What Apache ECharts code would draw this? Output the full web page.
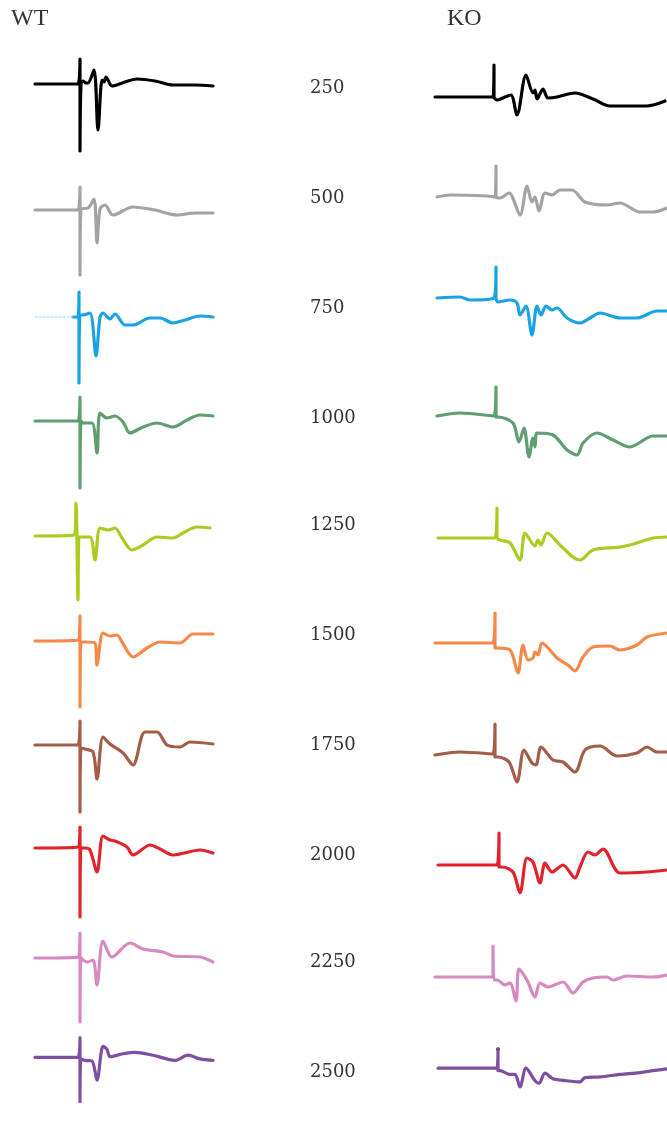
<!DOCTYPE html>
<html>
<head>
<meta charset="utf-8">
<script src="https://cdn.jsdelivr.net/npm/echarts@6/dist/echarts.min.js"></script>
<style>
  html, body { margin: 0; padding: 0; background: #fff; }
  #chart { width: 667px; height: 1131px; }
</style>
</head>
<body>
<div id="chart"></div>
<script>
// stimulus intensities, one row each
const doses = ['250', '500', '750', '1000', '1250', '1500', '1750', '2000', '2250', '2500']
const traceColors = ['#000000', '#a3a3a3', '#1aa3e3', '#5e9e70', '#aacb1f', '#f5894a', '#a45e47', '#e3232b', '#d78abf', '#7f4f9f']

// WT traces: [time, amplitude]
const wt250 = [[0,0],[43,0],[45,25],[45,-67],[46,0],[48,3],[51,1],[53,1],[59,14],[63,-46],[67,4],[69,2],[71,7],[77,-2],[90,2],[102,5],[120,3],[138,-1],[160,-1],[178,-2]]
const wt500 = [[0,0],[43,0],[45,23],[45,-65],[46,1],[53,2],[59,11],[62,-33],[65,1],[70,5],[78,-5],[98,3],[120,0],[142,-5],[160,-3],[178,-3]]
const wt750dim = [[0,0],[38,0]]
const wt750 = [[38,0],[43,0],[44,25],[44,-66],[45,2],[48,2],[55,4],[61,-39],[65,0],[68,4],[75,-2],[80,3],[90,-8],[98,-8],[115,-1],[125,-1],[138,-6],[150,-3],[165,1],[178,0]]
const wt1000 = [[0,0],[43,0],[45,24],[45,-67],[46,0],[48,-2],[57,-2],[62,-32],[65,8],[72,3],[80,5],[88,-1],[95,-12],[108,-6],[122,-2],[138,-6],[152,1],[165,6],[178,5]]
const wt1250 = [[0,0],[39,1],[41,33],[43,-64],[44,-1],[55,-1],[60,-24],[65,8],[73,6],[80,8],[87,-2],[97,-14],[108,-9],[122,-1],[138,-2],[148,3],[162,9],[175,8]]
const wt1500 = [[0,0],[43,1],[45,25],[45,-66],[46,-1],[50,-1],[60,-2],[62,-24],[68,8],[75,5],[82,6],[87,-1],[98,-16],[112,-7],[125,-1],[145,-2],[158,7],[178,7]]
const wt1750 = [[0,0],[43,0],[45,24],[45,-67],[46,-3],[50,-4],[58,-7],[62,-34],[68,8],[75,1],[88,-8],[98,-20],[110,13],[122,13],[132,0],[145,-2],[155,3],[178,1]]
const wt2000 = [[0,0],[43,1],[45,21],[45,-69],[46,0],[50,0],[55,-2],[62,-24],[68,12],[75,8],[80,7],[92,1],[98,-7],[115,3],[125,-1],[138,-7],[165,-2],[178,-5]]
const wt2250 = [[0,0],[43,1],[45,25],[45,-64],[46,0],[52,-4],[58,-2],[62,-27],[68,17],[77,1],[95,15],[108,9],[128,6],[138,2],[165,1],[178,-4]]
const wt2500 = [[0,0],[43,0],[45,27],[45,-60],[46,-2],[50,-4],[57,-5],[62,-31],[68,15],[72,11],[75,1],[88,5],[100,7],[118,3],[140,-4],[153,3],[165,-2],[178,-4]]

// KO traces
const ko250 = [[0,0],[58,0],[59,32],[59,0],[62,-3],[70,0],[76,2],[82,-18],[91,22],[98,4],[100,7],[102,-2],[108,8],[113,-1],[122,0],[140,4],[158,-2],[175,-9],[212,-9],[230,-4]]
const ko500 = [[2,0],[15,2],[52,1],[60,0],[61,31],[61,0],[65,-1],[74,4],[85,-18],[92,11],[97,-5],[100,0],[104,-14],[110,4],[117,2],[125,7],[137,7],[150,-5],[172,-8],[185,-6],[205,-15],[218,-15],[232,-11]]
const ko750 = [[2,0],[25,1],[35,-2],[59,0],[61,31],[61,0],[63,-4],[75,-2],[82,-5],[85,-17],[91,-8],[97,-37],[102,-8],[106,-17],[111,-8],[117,-12],[122,-10],[132,-20],[145,-25],[155,-20],[165,-15],[185,-20],[202,-20],[222,-13],[232,-13]]
const ko1000 = [[2,0],[25,3],[59,0],[61,29],[61,-1],[63,-1],[78,-7],[84,-26],[89,-12],[94,-41],[98,-22],[100,-31],[102,-17],[118,-19],[132,-34],[142,-39],[148,-27],[162,-17],[178,-24],[195,-31],[218,-20],[232,-20]]
const ko1250 = [[3,0],[60,0],[62,30],[62,0],[65,-2],[75,-5],[85,-22],[90,5],[100,-8],[103,-2],[106,-7],[112,5],[125,-7],[138,-19],[145,-22],[158,-12],[185,-9],[202,-5],[218,0],[232,1]]
const ko1500 = [[0,0],[58,0],[60,30],[60,-5],[62,-5],[75,-7],[83,-30],[88,-2],[93,-17],[98,-15],[100,-9],[103,-12],[107,0],[122,-15],[133,-22],[140,-28],[148,-14],[158,-4],[175,-3],[185,-7],[202,-2],[212,6],[232,10]]
const ko1750 = [[0,-1],[25,2],[58,0],[60,30],[60,-3],[63,-3],[74,-8],[82,-28],[89,4],[97,-9],[101,-11],[106,7],[118,-6],[128,-8],[140,-18],[150,4],[165,8],[182,-2],[202,1],[212,7],[222,2],[232,2]]
const ko2000 = [[3,0],[62,0],[64,32],[64,-2],[67,-2],[78,-7],[85,-28],[92,7],[98,3],[105,-18],[110,2],[117,-7],[128,0],[140,-13],[145,-2],[153,13],[160,10],[168,16],[185,-8],[212,-7],[232,-5]]
const ko2250 = [[0,0],[58,0],[58,31],[59,-3],[62,-3],[70,-8],[75,-6],[81,-24],[84,8],[92,-3],[100,-20],[105,-6],[113,-10],[128,-5],[138,-16],[148,-5],[158,-1],[172,0],[178,-3],[192,1],[218,0],[232,2]]
const ko2500 = [[3,0],[62,0],[63,30],[63,-4],[65,-4],[75,-10],[80,-10],[85,-30],[91,0],[100,-20],[104,-24],[110,-8],[118,-17],[132,-20],[145,-22],[150,-15],[165,-14],[185,-10],[205,-7],[218,-4],[232,-1]]
const ko2500Dot = [[63,30]]

const wtTraces = [wt250, wt500, wt750, wt1000, wt1250, wt1500, wt1750, wt2000, wt2250, wt2500]
const koTraces = [ko250, ko500, ko750, ko1000, ko1250, ko1500, ko1750, ko2000, ko2250, ko2500]

// layout: baseline pixel of each row
const wtBase = [84, 210, 317, 421, 536, 641, 745, 848, 958, 1068]
const koBase = [97, 197, 298, 416, 538, 643, 754, 865, 977, 1083]
const labelY = [88, 198, 308, 418, 525, 635, 745, 855, 962, 1072]

const grid = []
const xAxis = []
const yAxis = []
const series = []

const addPanel = (left, width, xMax, base, data, color, extra) => {
  const i = grid.length
  grid.push({ left: left, top: base - 40, width: width, height: 140 })
  xAxis.push({ type: 'value', gridIndex: i, min: 0, max: xMax, show: false })
  yAxis.push({ type: 'value', gridIndex: i, min: -100, max: 40, show: false })
  series.push({
    type: 'line',
    xAxisIndex: i,
    yAxisIndex: i,
    data: data,
    showSymbol: false,
    silent: true,
    clip: false,
    smooth: 0.3,
    lineStyle: { color: color, width: 3.2, join: 'round', cap: 'round' }
  })
  if (extra) extra(i)
}

doses.forEach((d, k) => {
  addPanel(35, 180, 180, wtBase[k], wtTraces[k], traceColors[k], k === 2 ? (i) => {
    series.push({
      type: 'line', xAxisIndex: i, yAxisIndex: i, data: wt750dim,
      showSymbol: false, silent: true,
      lineStyle: { color: '#9fd8f2', width: 1, type: [3, 1] }
    })
  } : null)
  addPanel(435, 232, 232, koBase[k], koTraces[k], traceColors[k], k === 9 ? (i) => {
    series.push({
      type: 'scatter', xAxisIndex: i, yAxisIndex: i, data: ko2500Dot,
      symbolSize: 4, silent: true, itemStyle: { color: '#000' }
    })
  } : null)
})

const labelFont = '"DejaVu Serif", "Liberation Serif", serif'
const graphic = [
  { type: 'text', left: 11, top: 7, style: { text: 'WT', fill: '#333', font: '24px "Liberation Serif", serif' } },
  { type: 'text', left: 447, top: 7, style: { text: 'KO', fill: '#333', font: '24px "Liberation Serif", serif' } }
]
doses.forEach((d, k) => {
  graphic.push({
    type: 'text', x: 310, y: labelY[k],
    style: { text: d, fill: '#333', font: '18px ' + labelFont, verticalAlign: 'middle', textAlign: 'left' }
  })
})

const chart = echarts.init(document.getElementById('chart'))
chart.setOption({
  animation: false,
  backgroundColor: '#fff',
  grid: grid,
  xAxis: xAxis,
  yAxis: yAxis,
  series: series,
  graphic: graphic
})
</script>
</body>
</html>
